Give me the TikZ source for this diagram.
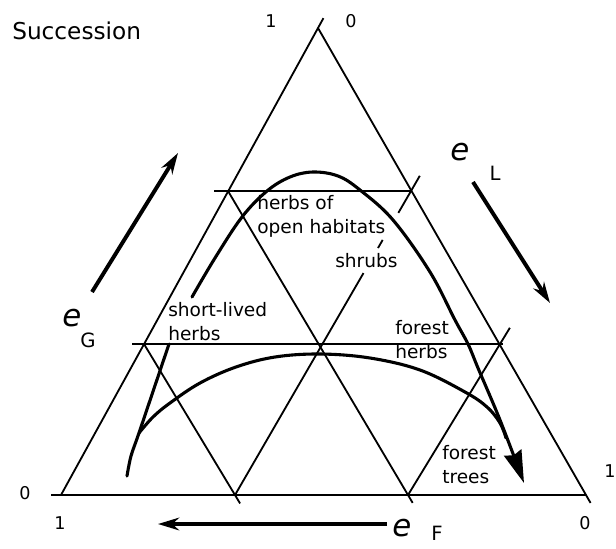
\documentclass[tikz,border=0pt]{standalone}
\usepackage{fontspec}
\setmainfont{DejaVu Sans}
\usetikzlibrary{arrows.meta,calc}

\begin{document}
\begin{tikzpicture}[x=0.025cm,y=-0.025cm,
  gridln/.style={line width=1.3pt},
  trackln/.style={line width=2.2pt,line cap=round},
  axisarr/.style={line width=2.8pt,-{Stealth[length=15pt,width=9pt]}},
  lbl/.style={font=\fontsize{13.2}{16.7}\selectfont,align=left,inner sep=0pt,anchor=base west},
  num/.style={font=\fontsize{12.5}{13}\selectfont,inner sep=0pt},
  ebig/.style={font=\fontsize{22}{24}\selectfont\itshape,inner sep=0pt},
  esub/.style={font=\fontsize{14}{15}\selectfont,inner sep=0pt}]
  \useasboundingbox (0,0) rectangle (616,548);

  \coordinate (A) at (318,28);
  \coordinate (B) at (61,495);
  \coordinate (C) at (586,495);
  \coordinate (P1) at (228,191);
  \coordinate (P2) at (411,191);
  \coordinate (Q1) at (144,344);
  \coordinate (Q2) at (500,344);
  \coordinate (R1) at (235,495);
  \coordinate (R2) at (408,495);

  \draw[gridln,shorten >=-8pt] (B) -- (A);
  \draw[gridln,shorten >=-6.5pt] (A) -- (C);
  \draw[gridln,shorten >=-7pt] (C) -- (B);
  \draw[gridln,shorten >=-10pt] (P2) -- (P1);
  \draw[gridln,shorten >=-8.5pt,shorten <=-2pt] (Q2) -- (Q1);
  \draw[gridln,shorten >=-6.5pt] (P1) -- (R2);
  \draw[gridln,shorten >=-7pt] (Q1) -- (R1);
  \draw[gridln,shorten >=-13.5pt] (R2) -- (Q2);
  \draw[gridln] (R1) -- ($(R1)!0.73!(P2)$);
  \draw[gridln] ($(R1)!0.8125!(P2)$) -- ($(R1)!0.839!(P2)$);
  \draw[gridln] ($(R1)!0.928!(P2)$) -- ($(R1)!1.05!(P2)$);

  \node[font=\fontsize{16.5}{19}\selectfont,anchor=base west,inner sep=0pt] (title) at (12,39) {Succession};
  \node[lbl] (open) at (257,233) {herbs of\\open habitats};
  \node[lbl] (shrubs) at (335,267) {shrubs};
  \node[lbl] (short) at (168,340) {short-lived\\herbs};
  \node[lbl] (fherbs) at (395,358) {forest\\herbs};
  \node[lbl] (ftrees) at (442,483) {forest\\trees};

  \node[num] (nA1) at (271,21) {1};
  \node[num] (nA0) at (351,21) {0};
  \node[num] (nB0) at (25,493) {0};
  \node[num] (nB1) at (60,523) {1};
  \node[num] (nC0) at (585,523) {0};
  \node[num] (nC1) at (610,471) {1};

  \coordinate (gt) at (92,292);
  \coordinate (gh) at (178,153);
  \coordinate (lt) at (473,182);
  \coordinate (lh) at (550,303);
  \coordinate (ft) at (387,524);
  \coordinate (fh) at (158,524);
  \draw[axisarr] (gt) -- (gh);
  \draw[axisarr] (lt) -- (lh);
  \draw[axisarr] (ft) -- (fh);
  \node[ebig] (eG) at (72,318) {e};
  \node[esub] (G) at (88,340) {G};
  \node[ebig] (eL) at (460,152) {e};
  \node[esub] (L) at (495,173) {L};
  \node[ebig] (eF) at (402,528) {e};
  \node[esub] (F) at (437,533) {F};

  \draw[trackln] plot[smooth,tension=0.5] coordinates {(127,476) (131,456) (140,430) (169,344)};
  \draw[trackln] plot[smooth,tension=0.6] coordinates {(139,433) (153,417) (170,403) (200,383) (236,367) (275,357) (320,354) (370,358) (420,370) (465,392) (487,407) (500,423) (506,438)};
  \draw[trackln,-{Stealth[length=23pt,width=13pt,inset=2pt]}] plot[smooth,tension=0.6] coordinates {(192,297) (215,258) (242,217) (267,191) (290,177) (313,172) (338,176) (360,190) (393,220) (430,272) (455,320) (468,344) (478,368) (500,420) (524,483)};
\end{tikzpicture}
\end{document}
